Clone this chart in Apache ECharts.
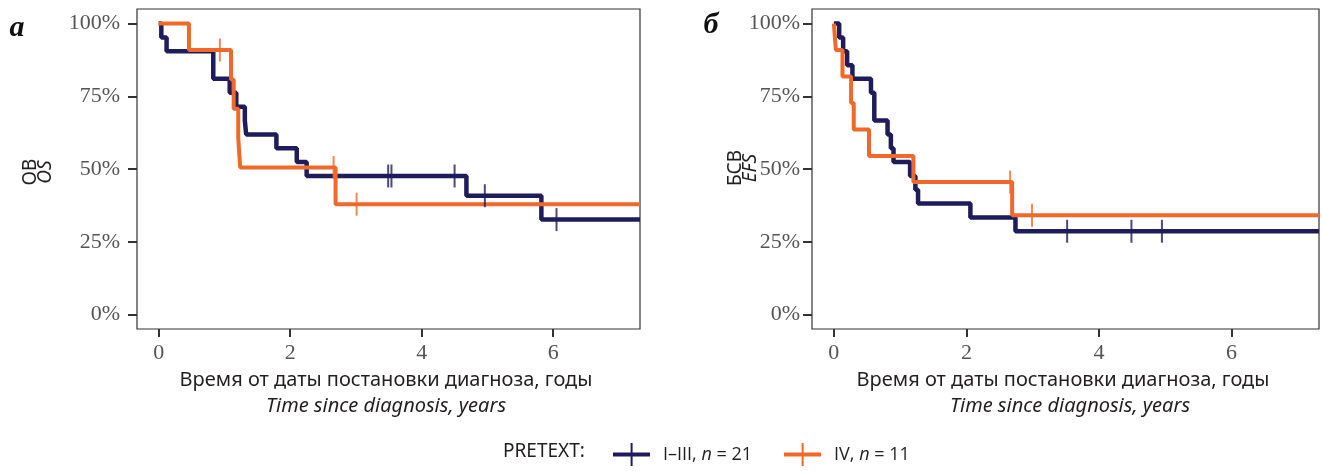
<!DOCTYPE html>
<html>
<head>
<meta charset="utf-8">
<script src="https://cdn.jsdelivr.net/npm/echarts@6/dist/echarts.min.js"></script>
<style>
  html, body { margin: 0; padding: 0; background: #ffffff; }
  #chart { width: 1322px; height: 471px; }
</style>
</head>
<body>
<div id="chart"></div>
<script>
// ---------- DATA ----------
const groupNames = ['I–III, n = 21', 'IV, n = 11'];
const xTicks = [0, 2, 4, 6];
const yTicks = [0, 25, 50, 75, 100];

// Panel a: overall survival (OS)
const osBlueTime = [0, 0.04, 0.12, 0.83, 1.08, 1.18, 1.31, 1.33, 1.79, 2.10, 2.25, 4.68, 5.82, 7.32];
const osBlueSurv = [100, 95.2, 90.5, 81.0, 76.2, 71.4, 66.7, 61.9, 57.1, 52.4, 47.6, 40.8, 32.6, 32.6];
const osBlueCensor = [3.49, 3.54, 4.50, 4.96, 6.05];

const osOrangeTime = [0, 0.46, 1.10, 1.14, 1.21, 1.24, 2.69, 7.32];
const osOrangeSurv = [100, 90.9, 80.8, 70.7, 60.6, 50.5, 37.9, 37.9];
const osOrangeCensor = [0.93, 2.66, 3.01];

// Panel б: event-free survival (EFS)
const efsBlueTime = [0, 0.08, 0.14, 0.20, 0.28, 0.56, 0.61, 0.81, 0.86, 0.90, 1.15, 1.23, 1.27, 2.06, 2.74, 7.32];
const efsBlueSurv = [100, 95.2, 90.5, 85.7, 81.0, 76.2, 66.7, 61.9, 57.1, 52.4, 47.6, 42.9, 38.1, 33.3, 28.6, 28.6];
const efsBlueCensor = [3.52, 4.49, 4.95];

const efsOrangeTime = [0, 0.03, 0.13, 0.26, 0.30, 0.53, 1.20, 2.69, 7.32];
const efsOrangeSurv = [100, 90.9, 81.8, 72.7, 63.6, 54.5, 45.5, 34.1, 34.1];
const efsOrangeCensor = [2.66, 2.99];

// ---------- HELPERS ----------
const BLUE = '#1e1c5a';
const ORANGE = '#f0682a';
function pairs(t, s) { return t.map((v, i) => [v, s[i]]); }
function survAt(t, s, x) {
  let v = s[0];
  for (let i = 0; i < t.length; i++) { if (t[i] <= x) v = s[i]; }
  return v;
}
function censorPts(t, s, c) { return c.map(x => [x, survAt(t, s, x)]); }

function lineSeries(name, idx, t, s, color) {
  return {
    name: name, type: 'line', step: 'end', xAxisIndex: idx, yAxisIndex: idx,
    data: pairs(t, s), showSymbol: false, symbol: 'none', silent: true,
    lineStyle: { color: color, width: color === ORANGE ? 4 : 4.5 }, itemStyle: { color: color },
    z: color === ORANGE ? 4 : 3, clip: true
  };
}
function censorSeries(name, idx, t, s, c, color) {
  return {
    name: name, type: 'scatter', xAxisIndex: idx, yAxisIndex: idx,
    data: censorPts(t, s, c), symbol: 'rect', symbolSize: [2, 23],
    itemStyle: { color: color }, silent: true, z: 5
  };
}

const serif = 'Liberation Serif';
const sans = 'Noto Sans';
const legendFont = 'Open Sans';

function xAxisCfg(idx) {
  return {
    type: 'value', gridIndex: idx, min: -0.33, max: 7.32,
    splitLine: { show: false },
    axisLine: { show: false, onZero: false },
    axisTick: { show: true, length: 8, lineStyle: { color: '#333', width: 2 }, customValues: xTicks },
    axisLabel: { customValues: xTicks, fontFamily: serif, fontSize: 22, color: '#555', margin: 13 }
  };
}
function yAxisCfg(idx, margin) {
  return {
    type: 'value', gridIndex: idx, min: -5, max: 105,
    splitLine: { show: false },
    axisLine: { show: false, onZero: false },
    axisTick: { show: true, length: 9, lineStyle: { color: '#333', width: 2 }, customValues: yTicks },
    axisLabel: { customValues: yTicks, fontFamily: serif, fontSize: 22, color: '#555', margin: margin,
      formatter: '{value}%' }
  };
}

const legendIcon = 'path://M0,9.5h37v4h-37z M17.6,0h2v23h-2z';

const option = {
  animation: false,
  backgroundColor: '#ffffff',
  grid: [
    { left: 137, top: 9, width: 503, height: 320, show: true, borderColor: '#333', borderWidth: 1.2, backgroundColor: '#fff' },
    { left: 812, top: 9, width: 507, height: 320, show: true, borderColor: '#333', borderWidth: 1.2, backgroundColor: '#fff' }
  ],
  xAxis: [xAxisCfg(0), xAxisCfg(1)],
  yAxis: [yAxisCfg(0, 17), yAxisCfg(1, 12)],
  legend: {
    left: 608, top: 438, itemWidth: 37, itemHeight: 23, itemGap: 32,
    data: [
      { name: groupNames[0], icon: legendIcon, itemStyle: { color: BLUE } },
      { name: groupNames[1], icon: legendIcon, itemStyle: { color: ORANGE } }
    ],
    selectedMode: false,
    formatter: function (name) {
      const parts = name.split(', n = ');
      return '{t|' + parts[0] + ', }{i|n}{t| = ' + parts[1] + '}';
    },
    textStyle: {
      fontFamily: legendFont, fontSize: 18, color: '#231f20', padding: [0, 0, 0, 8],
      rich: {
        t: { fontFamily: legendFont, fontSize: 18, color: '#231f20' },
        i: { fontFamily: legendFont, fontSize: 18, fontStyle: 'italic', color: '#231f20' }
      }
    }
  },
  graphic: [
    { type: 'text', x: 17, y: 28, style: { text: 'a', font: 'bold italic 30px "Liberation Serif"', fill: '#111', align: 'center', verticalAlign: 'middle' } },
    { type: 'text', x: 711, y: 25, style: { text: 'б', font: 'bold italic 30px "Liberation Serif"', fill: '#111', align: 'center', verticalAlign: 'middle' } },
    { type: 'text', x: 31, y: 172, rotation: Math.PI / 2, style: { text: 'ОВ', font: '19px "Noto Sans"', fill: '#231f20', align: 'center', verticalAlign: 'middle' } },
    { type: 'text', x: 46, y: 172, rotation: Math.PI / 2, style: { text: 'OS', font: 'italic 19px "Noto Sans"', fill: '#231f20', align: 'center', verticalAlign: 'middle' } },
    { type: 'text', x: 736, y: 168, rotation: Math.PI / 2, style: { text: 'БСВ', font: '19px "Noto Sans"', fill: '#231f20', align: 'center', verticalAlign: 'middle' } },
    { type: 'text', x: 751, y: 168, rotation: Math.PI / 2, style: { text: 'EFS', font: 'italic 19px "Noto Sans"', fill: '#231f20', align: 'center', verticalAlign: 'middle' } },
    { type: 'text', x: 386, y: 380, style: { text: 'Время от даты постановки диагноза, годы', font: '20px "Noto Sans"', fill: '#231f20', align: 'center', verticalAlign: 'middle' } },
    { type: 'text', x: 386, y: 406, style: { text: 'Time since diagnosis, years', font: 'italic 20px "Noto Sans"', fill: '#231f20', align: 'center', verticalAlign: 'middle' } },
    { type: 'text', x: 1063, y: 380, style: { text: 'Время от даты постановки диагноза, годы', font: '20px "Noto Sans"', fill: '#231f20', align: 'center', verticalAlign: 'middle' } },
    { type: 'text', x: 1070, y: 406, style: { text: 'Time since diagnosis, years', font: 'italic 20px "Noto Sans"', fill: '#231f20', align: 'center', verticalAlign: 'middle' } },
    { type: 'text', x: 503, y: 452, style: { text: 'PRETEXT:', font: '19px "Noto Sans"', fill: '#231f20', align: 'left', verticalAlign: 'middle' } }
  ],
  series: [
    lineSeries(groupNames[0], 0, osBlueTime, osBlueSurv, BLUE),
    censorSeries(groupNames[0], 0, osBlueTime, osBlueSurv, osBlueCensor, BLUE),
    lineSeries(groupNames[1], 0, osOrangeTime, osOrangeSurv, ORANGE),
    censorSeries(groupNames[1], 0, osOrangeTime, osOrangeSurv, osOrangeCensor, ORANGE),
    lineSeries(groupNames[0], 1, efsBlueTime, efsBlueSurv, BLUE),
    censorSeries(groupNames[0], 1, efsBlueTime, efsBlueSurv, efsBlueCensor, BLUE),
    lineSeries(groupNames[1], 1, efsOrangeTime, efsOrangeSurv, ORANGE),
    censorSeries(groupNames[1], 1, efsOrangeTime, efsOrangeSurv, efsOrangeCensor, ORANGE)
  ]
};

const chart = echarts.init(document.getElementById('chart'), null, { renderer: 'canvas' });
chart.setOption(option);
</script>
</body>
</html>
